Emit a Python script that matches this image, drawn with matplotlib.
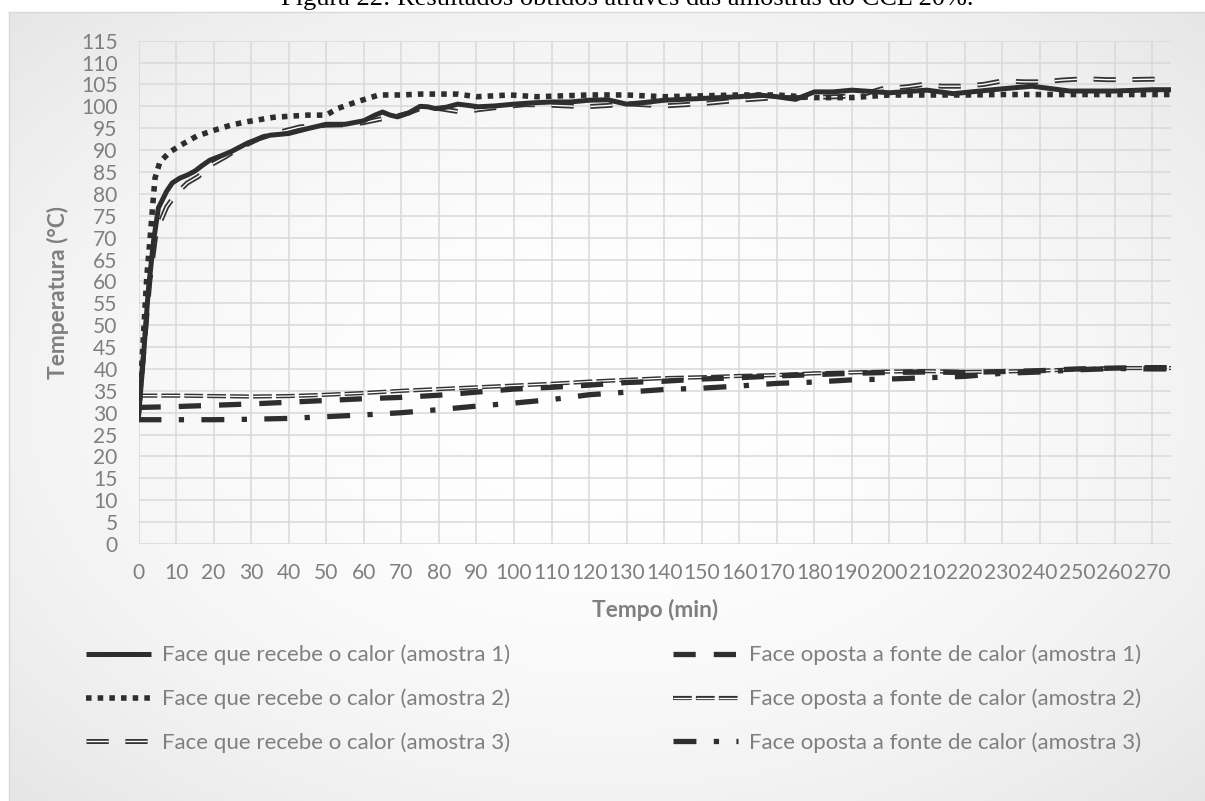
import numpy as np
import matplotlib
matplotlib.use("Agg")
import matplotlib.pyplot as plt
import matplotlib.patheffects as pe
from matplotlib.lines import Line2D

# ---------------- data ----------------
title = "Figura 22: Resultados obtidos através das amostras do CCL 20%."
xlabel = "Tempo (min)"
ylabel = "Temperatura (°C)"
labels = [
    "Face que recebe o calor (amostra 1)",
    "Face que recebe o calor (amostra 2)",
    "Face que recebe o calor (amostra 3)",
    "Face oposta a fonte de calor (amostra 1)",
    "Face oposta a fonte de calor (amostra 2)",
    "Face oposta a fonte de calor (amostra 3)",
]
x_ticks = list(range(0, 271, 10))
y_ticks = list(range(0, 116, 5))

# Face que recebe o calor - amostra 1 (solid)
t_q1 = [0, 1.3, 2.6, 4, 5.3, 7.5, 9, 11, 13, 15, 17, 19, 22.6, 25, 29, 32, 35, 40, 45, 50,
        55, 60, 63, 65, 67, 69, 72, 75, 77, 79, 82, 85, 88, 90.5, 95, 100, 105, 110, 115, 120,
        125, 130, 135, 140, 150, 160, 165, 170, 175, 180, 185, 190, 200, 210, 217, 230, 238,
        248, 260, 270, 275]
T_q1 = [29, 42.6, 57.8, 69.2, 76.8, 80.6, 82.5, 83.6, 84.3, 85.2, 86.5, 87.7, 88.9, 89.8, 91.6,
        92.6, 93.4, 93.8, 94.9, 95.9, 95.9, 96.7, 98.0, 98.7, 98.0, 97.6, 98.5, 100.0, 99.9, 99.5,
        99.8, 100.5, 100.2, 99.9, 100.1, 100.5, 100.8, 101.0, 101.0, 101.4, 101.5, 100.5, 100.9,
        101.4, 101.8, 102.2, 102.6, 102.2, 101.6, 103.3, 103.3, 103.7, 103.1, 103.7, 102.9,
        104.0, 104.6, 103.5, 103.5, 103.8, 103.8]

# Face que recebe o calor - amostra 2 (square dots)
t_q2 = [0, 0.85, 1.5, 2.2, 3.1, 3.8, 4.4, 5.7, 8.4, 11, 15.5, 20, 25, 29, 36, 45, 50, 53, 58,
        64, 70, 75, 85, 90, 99, 106, 120, 130, 140, 150, 160, 170, 180, 190, 200, 210, 220, 230,
        240, 250, 260, 270, 275]
T_q2 = [30, 40.5, 50.4, 61, 70, 77.5, 83.6, 87.3, 89.6, 91, 93.2, 94.5, 95.8, 96.5, 97.5, 98.0,
        98.0, 99.5, 101.0, 102.6, 102.6, 102.8, 102.8, 102.2, 102.6, 102.2, 102.6, 102.6, 102.2,
        102.4, 102.6, 102.6, 102.0, 102.0, 102.6, 102.6, 102.6, 102.7, 102.7, 102.7, 102.7,
        102.7, 102.7]

# Face que recebe o calor - amostra 3 (double dashed)
t_q3 = [0, 1.5, 3, 4.5, 6, 7.5, 10, 13, 16, 19, 23, 27, 33, 38, 43, 50, 56, 60, 65, 68, 72, 75,
        80, 86, 91, 97, 103, 109, 119, 125, 130, 140, 150, 160, 170, 177, 186, 192, 198, 205,
        209, 214, 219, 225, 230, 236, 241, 246, 252, 258, 263, 270, 275]
T_q3 = [30, 45, 60, 70, 74, 77, 80, 82.5, 84, 86.5, 88.4, 90.5, 93, 94.2, 95.3, 95.7, 95.8, 96.3,
        97.2, 97.6, 98.5, 99.5, 99.5, 98.7, 99.3, 99.9, 100.4, 100.3, 99.9, 100.2, 100.6, 100.1,
        100.6, 101.4, 102.0, 102.0, 102.2, 102.5, 104.0, 104.5, 105.0, 104.6, 104.6, 105.0,
        105.8, 105.6, 105.6, 106.0, 106.3, 106.1, 106.1, 106.2, 106.2]

# Face oposta a fonte de calor
t_op = [0, 10, 20, 30, 40, 50, 60, 70, 80, 90, 100, 110, 120, 130, 140, 150, 160, 170, 180,
        190, 200, 210, 220, 230, 240, 250, 260, 270, 275]
T_o1 = [31.2, 31.4, 31.7, 32.0, 32.4, 32.8, 33.2, 33.5, 34.0, 34.7, 35.4, 35.8, 36.3, 36.9, 37.2,
        37.7, 38.0, 38.4, 38.7, 39.0, 39.2, 39.3, 39.2, 39.4, 39.6, 40.0, 40.2, 40.3, 40.3]
T_o2 = [33.9, 33.9, 33.8, 33.7, 33.8, 34.1, 34.5, 35.0, 35.4, 35.8, 36.2, 36.6, 37.1, 37.5, 37.9,
        38.1, 38.4, 38.6, 39.0, 39.2, 39.4, 39.5, 39.3, 39.4, 39.6, 39.9, 40.2, 40.2, 40.2]
T_o3 = [28.4, 28.4, 28.4, 28.5, 28.7, 29.1, 29.5, 30.0, 30.7, 31.5, 32.2, 33.0, 34.1, 34.7, 35.3,
        35.6, 36.1, 36.7, 37.0, 37.5, 37.7, 38.0, 38.3, 39.0, 39.3, 39.8, 40.1, 40.0, 40.0]

# ---------------- style ----------------
plt.rcParams["lines.scale_dashes"] = False
plt.rcParams["font.family"] = ["Lato", "DejaVu Sans"]
TXT = "#7f7f7f"
DARK = "#2e2e2e"
GRID = "#d9d9d9"

W, H = 1205, 801
fig = plt.figure(figsize=(W / 100, H / 100), dpi=100)
fig.patch.set_facecolor("white")
renderer = fig.canvas.get_renderer()


def fit_size(text, target_px, base=14.0, **kw):
    t = fig.text(0, 0, text, fontsize=base, **kw)
    w = t.get_window_extent(renderer).width
    t.remove()
    return base * target_px / w


fs_leg = fit_size(labels[0], 348)
fs_tick = fit_size("270", 36.7)
fs_lab = fit_size(xlabel, 127, weight="bold")
fs_title = fit_size(title, 697, family="Liberation Serif")

# chart area background (radial gradient) and border
cl, ct = 9, 11.7
bg = fig.add_axes([cl / W, 0, 1 - cl / W, 1 - ct / H], zorder=-10)
xs = np.linspace(cl, 1215, 400)
ys = np.linspace(ct, 812, 300)
X, Y = np.meshgrid(xs, ys)
cx, cy = 612, 410
r2 = ((X - cx) / (1215 - cx)) ** 2 + ((Y - cy) / (812 - cy)) ** 2
val = 1.0 - 0.05 * r2
img = np.dstack([val, val, val])
bg.imshow(img, aspect="auto", extent=[0, 1, 0, 1], interpolation="bilinear")
bg.set_axis_off()
fig.add_artist(Line2D([cl / W, cl / W], [0, 1 - ct / H], transform=fig.transFigure,
                      color=GRID, lw=1.0))
fig.add_artist(Line2D([cl / W, 1], [1 - ct / H, 1 - ct / H], transform=fig.transFigure,
                      color=GRID, lw=1.0))

# title (cut by the top of the image, as in the reference)
fig.text(627.5 / W, 1 - 4.5 / H, title, ha="center", va="baseline",
         family="Liberation Serif", fontsize=fs_title, color="black")

# main axes
L, R, T, B = 138.5, 1171, 40.7, 544
ax = fig.add_axes([L / W, 1 - B / H, (R - L) / W, (B - T) / H])
ax.set_facecolor("none")
ax.set_xlim(0, 275)
ax.set_ylim(0, 115)
ax.set_xticks(x_ticks)
ax.set_xticklabels([str(v) for v in x_ticks])
ax.set_yticks(y_ticks)
ax.set_yticklabels([str(v) for v in y_ticks])
ax.grid(True, color=GRID, lw=1.1)
ax.set_axisbelow(True)
for s in ax.spines.values():
    s.set_visible(False)
ax.tick_params(axis="both", length=0, colors=TXT, labelsize=fs_tick)
ax.tick_params(axis="y", pad=15)
ax.tick_params(axis="x", pad=14)

ax.set_xlabel(xlabel, color=TXT, fontsize=fs_lab, weight="bold", va="center")
ax.xaxis.set_label_coords(0.5, (B - 610) / (B - T))
ax.set_ylabel(ylabel, color=TXT, fontsize=fs_lab, weight="bold", va="center")
ax.yaxis.set_label_coords((58 - L) / (R - L), 0.5)

# series
l1, = ax.plot(t_q1, T_q1, color=DARK, lw=3.6, solid_joinstyle="round",
              solid_capstyle="butt", label=labels[0], zorder=6)
l2, = ax.plot(t_q2, T_q2, color=DARK, lw=4.0, dashes=(4.0, 4.4), dash_capstyle="butt",
              label=labels[1], zorder=5)
l3, = ax.plot(t_q3, T_q3, color="white", lw=1.0, dashes=(16, 12), dash_capstyle="butt",
              label=labels[2], zorder=4,
              path_effects=[pe.Stroke(linewidth=3.6, foreground="#333333"), pe.Normal()])
l4, = ax.plot(t_op, T_o1, color=DARK, lw=3.8, dashes=(16, 13), dash_capstyle="butt",
              label=labels[3], zorder=5)
l5, = ax.plot(t_op, T_o2, color="white", lw=0.9, dashes=(13.5, 3), dash_capstyle="butt",
              label=labels[4], zorder=4,
              path_effects=[pe.Stroke(linewidth=3.0, foreground="#333333"), pe.Normal()])
l6, = ax.plot(t_op, T_o3, color=DARK, lw=3.8, dashes=(16.5, 12.5, 3.8, 12.5),
              dash_capstyle="butt", label=labels[5], zorder=5)

# legends (two columns)
leg_kw = dict(loc="center left", frameon=False, fontsize=fs_leg, handlelength=47 / fs_leg,
              handletextpad=7.6 / fs_leg, labelspacing=1.05, borderpad=0, borderaxespad=0,
              labelcolor=TXT)
fig.legend([l1, l2, l3], labels[:3], bbox_to_anchor=(86 / W, 1 - 699 / H), **leg_kw)
fig.legend([l4, l5, l6], labels[3:], bbox_to_anchor=(672.7 / W, 1 - 699 / H), **leg_kw)

fig.savefig("out.png", dpi=100)
